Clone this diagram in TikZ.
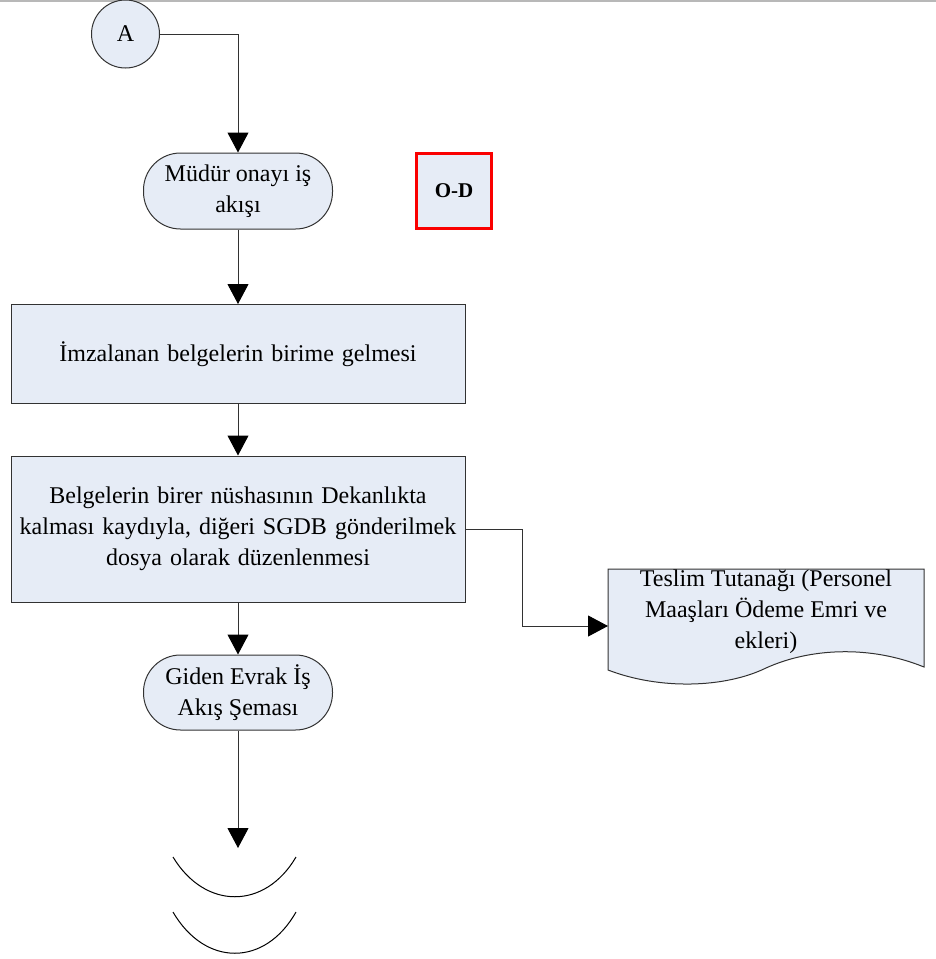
\documentclass[tikz,border=0pt]{standalone}
\usepackage{fontspec}
\setmainfont{Liberation Serif}
\usetikzlibrary{arrows.meta}
\definecolor{boxfill}{RGB}{230,236,246}
\definecolor{boxline}{RGB}{50,50,50}
\definecolor{odred}{RGB}{250,0,0}

\begin{document}
\begin{tikzpicture}[x=1pt, y=-1pt,
		every node/.style={font=\fontsize{24}{31}\selectfont, align=center, inner sep=0pt},
		stepbox/.style={draw=boxline, fill=boxfill, line width=1pt, minimum width=454, text width=440},
		terminal/.style={draw=boxline, fill=boxfill, line width=1pt, rounded corners=37, minimum width=189, minimum height=76},
		flow/.style={draw=boxline, line width=1pt, -{Triangle[width=21pt, length=20pt, black]}}]
			%%%%% START %%%%%
			\useasboundingbox (0, 0) rectangle (936, 959);
			\draw[line width=1.5pt, color=black!28] (0, 1) -- (936, 1);
			
			\node[circle, draw=boxline, fill=boxfill, line width=1pt, minimum size=68] (A) at (125.5, 34) {A};
			\node[terminal] (mudur) at (238, 191) {Müdür onayı iş\\akışı};
			\node[draw=odred, fill=boxfill, line width=3pt, minimum width=75, minimum height=75, font=\fontsize{21}{26}\bfseries] (od) at (454, 191) {O-D};
			
			\node[stepbox, minimum height=99] (imza) at (238, 354) {İmzalanan belgelerin birime gelmesi};
			\node[stepbox, minimum height=146] (belge) at (238, 529) {Belgelerin birer nüshasının Dekanlıkta\\kalması kaydıyla, diğeri SGDB gönderilmek\\dosya olarak düzenlenmesi};
			\node[terminal, minimum height=75] (giden) at (238, 692.5) {Giden Evrak İş\\Akış Şeması};
			
			% belge (document) shape
			\draw[draw=boxline, fill=boxfill, line width=1pt] (608, 569) -- (924, 569) -- (924, 667)
				.. controls (870, 645) and (810, 648) .. (766, 668)
				.. controls (725, 688) and (660, 690) .. (608, 670) -- cycle;
			\node (teslim) at (766, 612) {Teslim Tutanağı (Personel\\Maaşları Ödeme Emri ve\\ekleri)};
			\coordinate (teslimin) at (608, 626);
			
			% off-page connector
			\coordinate (devam) at (238, 848);
			\draw[line width=1pt] (173, 857) .. controls (205, 910) and (265, 910) .. (296, 857);
			\draw[line width=1pt] (173, 912) .. controls (205, 967) and (265, 967) .. (296, 912);
			
			\draw[flow] (A.east) -| (mudur.north);
			\draw[flow] (mudur) -- (imza);
			\draw[flow] (imza) -- (belge);
			\draw[flow] (belge.east) -- ++(57, 0) |- (teslimin);
			\draw[flow] (belge) -- (giden);
			\draw[flow] (giden) -- (devam);
			%%%%% END %%%%%
\end{tikzpicture}
\end{document}
